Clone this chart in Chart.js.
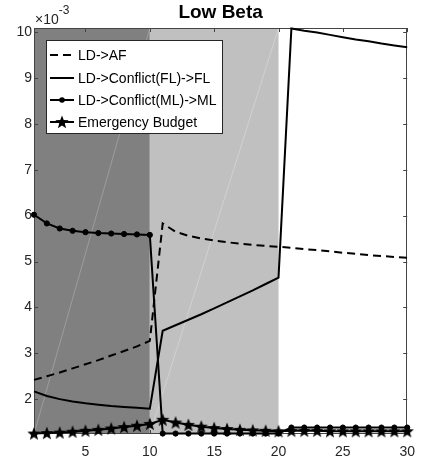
<!DOCTYPE html>
<html><head><meta charset="utf-8">
<script src="https://cdn.jsdelivr.net/npm/chart.js@4.4.0/dist/chart.umd.min.js"></script>
<style>html,body{margin:0;padding:0;background:#fff;overflow:hidden}</style>
</head><body>
<canvas id="c" width="425" height="463"></canvas>
<script>
// ---- data (values in units of 1e-3) ----
const steps = [1,2,3,4,5,6,7,8,9,10,11,12,13,14,15,16,17,18,19,20,21,22,23,24,25,26,27,28,29,30];
const ldAF = [2.42,2.50,2.58,2.67,2.76,2.85,2.95,3.05,3.15,3.27,5.83,5.65,5.56,5.50,5.46,5.42,5.39,5.36,5.34,5.32,5.30,5.27,5.25,5.22,5.19,5.17,5.14,5.12,5.10,5.08];
const ldFL = [2.17,2.07,2.00,1.95,1.91,1.88,1.85,1.83,1.81,1.79,3.49,3.61,3.73,3.85,3.98,4.11,4.24,4.37,4.51,4.65,10.08,10.03,9.99,9.94,9.89,9.84,9.80,9.75,9.71,9.67];
const ldML = [6.02,5.83,5.72,5.67,5.64,5.62,5.61,5.60,5.59,5.58,1.25,1.25,1.25,1.25,1.25,1.25,1.25,1.25,1.25,1.25,1.38,1.38,1.38,1.38,1.38,1.38,1.38,1.38,1.38,1.38];
const emergency = [1.25,1.26,1.27,1.29,1.31,1.33,1.36,1.39,1.42,1.46,1.55,1.49,1.44,1.40,1.37,1.35,1.33,1.32,1.31,1.30,1.31,1.31,1.31,1.30,1.30,1.30,1.30,1.30,1.30,1.30];
const seriesNames = ['LD->AF','LD->Conflict(FL)->FL','LD->Conflict(ML)->ML','Emergency Budget'];
const xTicks = [5,10,15,20,25,30];
const yTicks = [2,3,4,5,6,7,8,9,10];
const shadedRegions = [[1,10],[10,20]];
const titleText = 'Low Beta';

const FONT = '"Liberation Sans", Arial, Helvetica, sans-serif';
const AX = '#262626';

function makeStar(size){
  const c = document.createElement('canvas');
  c.width = size; c.height = size;
  const g = c.getContext('2d');
  const R = size/2, r = R*0.42;
  g.beginPath();
  for(let i=0;i<10;i++){
    const a = -Math.PI/2 + i*Math.PI/5;
    const rr = i%2===0 ? R : r;
    const px = R + rr*Math.cos(a), py = R + 0.5 + rr*Math.sin(a);
    if(i===0) g.moveTo(px,py); else g.lineTo(px,py);
  }
  g.closePath();
  g.fillStyle = '#000'; g.fill();
  return c;
}
const starImg = makeStar(14);

const pts = arr => arr.map((v,i)=>({x:steps[i], y:v}));

const bgPlugin = {
  id:'bg',
  beforeDatasetsDraw(chart){
    const {ctx, chartArea:a, scales:{x,y}} = chart;
    const fills = ['#808080','#c0c0c0'];
    const seams = ['rgba(190,190,190,0.45)','rgba(225,225,225,0.5)'];
    ctx.save();
    shadedRegions.forEach((r,i)=>{
      const x0 = x.getPixelForValue(r[0]), x1 = x.getPixelForValue(r[1]);
      ctx.fillStyle = fills[i];
      ctx.fillRect(x0, a.top, x1-x0, a.bottom-a.top);
      ctx.strokeStyle = seams[i]; ctx.lineWidth = 1;
      ctx.beginPath(); ctx.moveTo(x0, a.bottom); ctx.lineTo(x1, a.top); ctx.stroke();
    });
    // box
    ctx.strokeStyle = '#444'; ctx.lineWidth = 1;
    ctx.strokeRect(Math.round(a.left)+0.5, Math.round(a.top)+0.5, Math.round(a.right-a.left)-1, Math.round(a.bottom-a.top)-1);
    // inward ticks
    ctx.beginPath();
    xTicks.forEach(v=>{
      const px = Math.round(x.getPixelForValue(v))+0.5;
      ctx.moveTo(px, a.bottom); ctx.lineTo(px, a.bottom-4);
      ctx.moveTo(px, a.top); ctx.lineTo(px, a.top+4);
    });
    yTicks.forEach(v=>{
      const py = Math.round(y.getPixelForValue(v))+0.5;
      ctx.moveTo(a.left, py); ctx.lineTo(a.left+4, py);
      ctx.moveTo(a.right, py); ctx.lineTo(a.right-4, py);
    });
    ctx.stroke();
    ctx.restore();
  },
  afterDraw(chart){
    const {ctx, chartArea:a} = chart;
    ctx.save();
    // title
    ctx.fillStyle = '#000';
    ctx.font = 'bold 19px ' + FONT;
    ctx.textAlign = 'center'; ctx.textBaseline = 'alphabetic';
    ctx.fillText(titleText, (a.left+a.right)/2, 18);
    // exponent
    ctx.fillStyle = AX;
    ctx.textAlign = 'left';
    ctx.font = '14px ' + FONT;
    ctx.fillText('\u00d710', a.left+1, 24);
    const w = ctx.measureText('\u00d710').width;
    ctx.font = '12px ' + FONT;
    ctx.fillText('-3', a.left+1+w, 14);
    // legend
    const lx = 46, ly = 40, lw = 176, lh = 93;
    ctx.fillStyle = '#fff';
    ctx.fillRect(lx, ly, lw, lh);
    ctx.strokeStyle = AX; ctx.lineWidth = 1;
    ctx.strokeRect(lx+0.5, ly+0.5, lw, lh);
    const rows = [55,78,100,122];
    chart.data.datasets.forEach((ds,i)=>{
      const yy = rows[i];
      ctx.strokeStyle = '#000'; ctx.lineWidth = 2;
      ctx.setLineDash(ds.borderDash || []);
      ctx.beginPath(); ctx.moveTo(50, yy); ctx.lineTo(74, yy); ctx.stroke();
      ctx.setLineDash([]);
      if(i===2){ ctx.fillStyle='#000'; ctx.beginPath(); ctx.arc(62,yy,2.8,0,Math.PI*2); ctx.fill(); }
      if(i===3){ ctx.drawImage(starImg, 62-7, yy-7); }
      ctx.fillStyle = '#000';
      ctx.font = '14px ' + FONT;
      ctx.textAlign = 'left'; ctx.textBaseline = 'middle';
      ctx.fillText(ds.label, 78, yy+1);
    });
    ctx.restore();
  }
};

new Chart(document.getElementById('c'), {
  type:'line',
  data:{
    datasets:[
      {label:seriesNames[0], data:pts(ldAF), borderColor:'#000', borderWidth:2, borderDash:[8,5], pointRadius:0, fill:false, tension:0},
      {label:seriesNames[1], data:pts(ldFL), borderColor:'#000', borderWidth:2, pointRadius:0, fill:false, tension:0},
      {label:seriesNames[2], data:pts(ldML), borderColor:'#000', borderWidth:2, pointRadius:2.6, pointBorderWidth:1, pointStyle:'circle', pointBackgroundColor:'#000', pointBorderColor:'#000', fill:false, tension:0},
      {label:seriesNames[3], data:pts(emergency), borderColor:'#000', borderWidth:2, pointRadius:7, pointStyle:starImg, fill:false, tension:0}
    ]
  },
  options:{
    responsive:false, animation:false, devicePixelRatio:1,
    clip:false,
    layout:{padding:{top:28, right:15, left:0, bottom:0}},
    plugins:{legend:{display:false}, title:{display:false}, tooltip:{enabled:false}},
    scales:{
      x:{type:'linear', min:1, max:30,
        afterBuildTicks:s=>{s.ticks = xTicks.map(v=>({value:v}));},
        afterFit:s=>{s.height = 29;},
        grid:{display:false, drawTicks:false}, border:{display:false},
        ticks:{font:{family:FONT, size:14}, color:AX, padding:10, maxRotation:0}
      },
      y:{type:'linear', min:1.24, max:10.09,
        afterBuildTicks:s=>{s.ticks = yTicks.map(v=>({value:v}));},
        afterFit:s=>{s.width = 34;},
        grid:{display:false, drawTicks:false}, border:{display:false},
        ticks:{font:{family:FONT, size:14}, color:AX, padding:2}
      }
    }
  },
  plugins:[bgPlugin]
});
</script>
</body></html>
